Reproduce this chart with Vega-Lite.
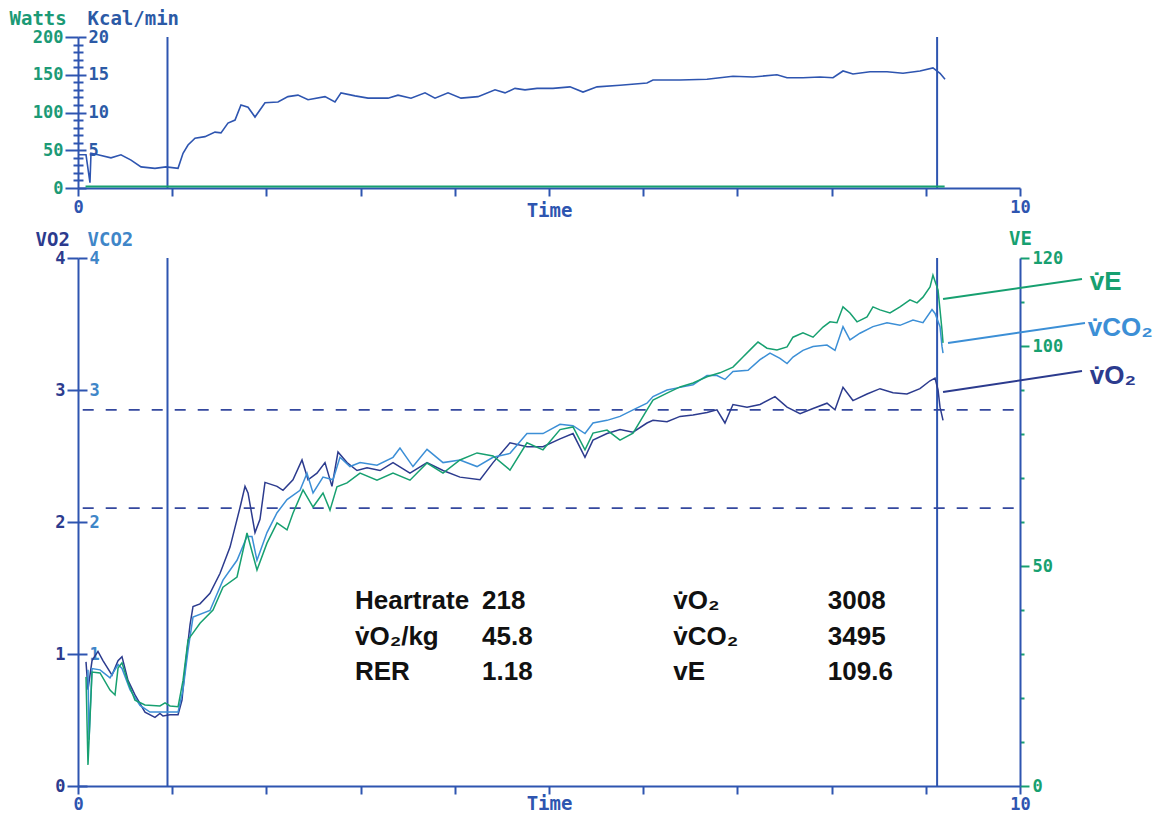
{
  "$schema": "https://vega.github.io/schema/vega-lite/v6.json",
  "background": "white",
  "padding": {"left": 9, "top": 9, "right": 0, "bottom": 0},
  "autosize": {"type": "pad"},
  "bounds": "flush",
  "spacing": 70,
  "config": {
    "view": {"stroke": null},
    "axis": {
      "grid": false,
      "domainColor": "#2e55b0",
      "domainWidth": 2,
      "tickColor": "#2e55b0",
      "tickWidth": 2,
      "labelFont": "DejaVu Sans Mono",
      "labelFontWeight": "bold",
      "labelFontSize": 17,
      "titleFont": "DejaVu Sans Mono",
      "titleFontWeight": "bold",
      "titleFontSize": 19,
      "labelOverlap": false,
      "labelFlush": false
    }
  },
  "datasets": {
    "kcal": [
      {"t": 0.0, "v": 4.4}, {"t": 0.085, "v": 4.4}, {"t": 0.127, "v": 0.7}, {"t": 0.138, "v": 4.6}, {"t": 0.212, "v": 4.4},
      {"t": 0.35, "v": 4.0}, {"t": 0.456, "v": 4.4}, {"t": 0.563, "v": 3.7}, {"t": 0.669, "v": 2.8}, {"t": 0.817, "v": 2.6},
      {"t": 0.934, "v": 2.8}, {"t": 1.062, "v": 2.6}, {"t": 1.115, "v": 4.6}, {"t": 1.168, "v": 5.7}, {"t": 1.242, "v": 6.6},
      {"t": 1.348, "v": 6.8}, {"t": 1.454, "v": 7.4}, {"t": 1.518, "v": 7.3}, {"t": 1.592, "v": 8.6}, {"t": 1.667, "v": 9.0},
      {"t": 1.73, "v": 11.0}, {"t": 1.805, "v": 10.7}, {"t": 1.879, "v": 9.4}, {"t": 1.985, "v": 11.3}, {"t": 2.123, "v": 11.4},
      {"t": 2.229, "v": 12.1}, {"t": 2.335, "v": 12.3}, {"t": 2.442, "v": 11.7}, {"t": 2.622, "v": 12.1}, {"t": 2.728, "v": 11.4},
      {"t": 2.792, "v": 12.6}, {"t": 2.941, "v": 12.2}, {"t": 3.079, "v": 11.9}, {"t": 3.291, "v": 11.9}, {"t": 3.397, "v": 12.3},
      {"t": 3.535, "v": 11.9}, {"t": 3.684, "v": 12.6}, {"t": 3.79, "v": 11.9}, {"t": 3.928, "v": 12.6}, {"t": 4.066, "v": 11.9},
      {"t": 4.246, "v": 12.1}, {"t": 4.427, "v": 13.0}, {"t": 4.533, "v": 12.6}, {"t": 4.639, "v": 13.2}, {"t": 4.745, "v": 13.0},
      {"t": 4.873, "v": 13.2}, {"t": 5.042, "v": 13.2}, {"t": 5.223, "v": 13.4}, {"t": 5.361, "v": 12.7}, {"t": 5.51, "v": 13.4},
      {"t": 5.754, "v": 13.6}, {"t": 6.04, "v": 13.9}, {"t": 6.104, "v": 14.3}, {"t": 6.391, "v": 14.3}, {"t": 6.677, "v": 14.4},
      {"t": 6.815, "v": 14.6}, {"t": 6.953, "v": 14.8}, {"t": 7.166, "v": 14.7}, {"t": 7.42, "v": 15.0}, {"t": 7.527, "v": 14.6},
      {"t": 7.696, "v": 14.6}, {"t": 7.877, "v": 14.7}, {"t": 8.015, "v": 14.6}, {"t": 8.121, "v": 15.5}, {"t": 8.227, "v": 15.1},
      {"t": 8.408, "v": 15.4}, {"t": 8.588, "v": 15.4}, {"t": 8.758, "v": 15.2}, {"t": 8.938, "v": 15.5}, {"t": 9.076, "v": 15.9},
      {"t": 9.151, "v": 15.2}, {"t": 9.204, "v": 14.4}
    ],
    "watts": [{"t": 0.08, "v": 2}, {"t": 4.5, "v": 2}, {"t": 9.2, "v": 2}],
    "vo2": [
      {"t": 0.085, "v": 0.94}, {"t": 0.106, "v": 0.73}, {"t": 0.149, "v": 0.95}, {"t": 0.212, "v": 1.02}, {"t": 0.265, "v": 0.95},
      {"t": 0.361, "v": 0.84}, {"t": 0.425, "v": 0.95}, {"t": 0.467, "v": 0.98}, {"t": 0.531, "v": 0.8}, {"t": 0.605, "v": 0.69},
      {"t": 0.711, "v": 0.56}, {"t": 0.817, "v": 0.52}, {"t": 0.87, "v": 0.55}, {"t": 0.902, "v": 0.53}, {"t": 0.977, "v": 0.54},
      {"t": 1.062, "v": 0.54}, {"t": 1.104, "v": 0.65}, {"t": 1.136, "v": 0.89}, {"t": 1.189, "v": 1.22}, {"t": 1.221, "v": 1.36},
      {"t": 1.295, "v": 1.38}, {"t": 1.401, "v": 1.46}, {"t": 1.507, "v": 1.61}, {"t": 1.614, "v": 1.81}, {"t": 1.72, "v": 2.11},
      {"t": 1.773, "v": 2.27}, {"t": 1.805, "v": 2.22}, {"t": 1.879, "v": 1.92}, {"t": 1.932, "v": 2.02}, {"t": 1.985, "v": 2.3},
      {"t": 2.113, "v": 2.27}, {"t": 2.176, "v": 2.24}, {"t": 2.282, "v": 2.32}, {"t": 2.378, "v": 2.47}, {"t": 2.442, "v": 2.32},
      {"t": 2.537, "v": 2.37}, {"t": 2.622, "v": 2.45}, {"t": 2.696, "v": 2.27}, {"t": 2.76, "v": 2.53}, {"t": 2.856, "v": 2.45},
      {"t": 2.962, "v": 2.39}, {"t": 3.068, "v": 2.41}, {"t": 3.206, "v": 2.39}, {"t": 3.344, "v": 2.45}, {"t": 3.524, "v": 2.37},
      {"t": 3.705, "v": 2.45}, {"t": 3.875, "v": 2.39}, {"t": 4.055, "v": 2.34}, {"t": 4.268, "v": 2.32}, {"t": 4.406, "v": 2.45},
      {"t": 4.586, "v": 2.6}, {"t": 4.766, "v": 2.57}, {"t": 4.936, "v": 2.57}, {"t": 5.117, "v": 2.63}, {"t": 5.255, "v": 2.67},
      {"t": 5.382, "v": 2.49}, {"t": 5.467, "v": 2.62}, {"t": 5.616, "v": 2.67}, {"t": 5.754, "v": 2.7}, {"t": 5.892, "v": 2.68},
      {"t": 6.04, "v": 2.75}, {"t": 6.104, "v": 2.77}, {"t": 6.253, "v": 2.76}, {"t": 6.391, "v": 2.8}, {"t": 6.529, "v": 2.81},
      {"t": 6.677, "v": 2.83}, {"t": 6.783, "v": 2.85}, {"t": 6.868, "v": 2.75}, {"t": 6.953, "v": 2.89}, {"t": 7.102, "v": 2.87},
      {"t": 7.24, "v": 2.89}, {"t": 7.399, "v": 2.95}, {"t": 7.527, "v": 2.87}, {"t": 7.665, "v": 2.82}, {"t": 7.803, "v": 2.86},
      {"t": 7.951, "v": 2.9}, {"t": 8.036, "v": 2.85}, {"t": 8.121, "v": 3.02}, {"t": 8.227, "v": 2.92}, {"t": 8.376, "v": 2.97},
      {"t": 8.514, "v": 3.01}, {"t": 8.652, "v": 2.98}, {"t": 8.8, "v": 2.97}, {"t": 8.938, "v": 3.01}, {"t": 9.045, "v": 3.07},
      {"t": 9.098, "v": 3.09}, {"t": 9.13, "v": 3.0}, {"t": 9.151, "v": 2.87}, {"t": 9.183, "v": 2.77}
    ],
    "vco2": [
      {"t": 0.106, "v": 0.88}, {"t": 0.117, "v": 0.35}, {"t": 0.149, "v": 0.89}, {"t": 0.234, "v": 0.88}, {"t": 0.34, "v": 0.82},
      {"t": 0.425, "v": 0.92}, {"t": 0.467, "v": 0.89}, {"t": 0.552, "v": 0.73}, {"t": 0.658, "v": 0.61}, {"t": 0.764, "v": 0.56},
      {"t": 0.87, "v": 0.56}, {"t": 0.977, "v": 0.56}, {"t": 1.062, "v": 0.56}, {"t": 1.115, "v": 0.73}, {"t": 1.168, "v": 1.03},
      {"t": 1.221, "v": 1.28}, {"t": 1.401, "v": 1.33}, {"t": 1.539, "v": 1.56}, {"t": 1.688, "v": 1.71}, {"t": 1.794, "v": 1.89},
      {"t": 1.847, "v": 1.89}, {"t": 1.9, "v": 1.71}, {"t": 2.006, "v": 1.92}, {"t": 2.113, "v": 2.07}, {"t": 2.219, "v": 2.17},
      {"t": 2.357, "v": 2.24}, {"t": 2.431, "v": 2.37}, {"t": 2.495, "v": 2.22}, {"t": 2.601, "v": 2.34}, {"t": 2.707, "v": 2.32},
      {"t": 2.781, "v": 2.49}, {"t": 2.887, "v": 2.42}, {"t": 2.994, "v": 2.45}, {"t": 3.174, "v": 2.43}, {"t": 3.344, "v": 2.49},
      {"t": 3.418, "v": 2.56}, {"t": 3.556, "v": 2.42}, {"t": 3.705, "v": 2.55}, {"t": 3.875, "v": 2.45}, {"t": 4.055, "v": 2.47},
      {"t": 4.236, "v": 2.42}, {"t": 4.406, "v": 2.49}, {"t": 4.586, "v": 2.52}, {"t": 4.766, "v": 2.67}, {"t": 4.936, "v": 2.67},
      {"t": 5.117, "v": 2.74}, {"t": 5.255, "v": 2.73}, {"t": 5.382, "v": 2.67}, {"t": 5.467, "v": 2.75}, {"t": 5.616, "v": 2.77},
      {"t": 5.754, "v": 2.8}, {"t": 5.892, "v": 2.85}, {"t": 6.04, "v": 2.9}, {"t": 6.104, "v": 2.95}, {"t": 6.253, "v": 3.0},
      {"t": 6.391, "v": 3.02}, {"t": 6.529, "v": 3.04}, {"t": 6.677, "v": 3.11}, {"t": 6.783, "v": 3.11}, {"t": 6.868, "v": 3.08},
      {"t": 6.953, "v": 3.14}, {"t": 7.113, "v": 3.15}, {"t": 7.24, "v": 3.23}, {"t": 7.346, "v": 3.28}, {"t": 7.452, "v": 3.24},
      {"t": 7.527, "v": 3.2}, {"t": 7.59, "v": 3.25}, {"t": 7.696, "v": 3.3}, {"t": 7.803, "v": 3.33}, {"t": 7.951, "v": 3.34},
      {"t": 8.036, "v": 3.3}, {"t": 8.121, "v": 3.48}, {"t": 8.195, "v": 3.38}, {"t": 8.301, "v": 3.43}, {"t": 8.439, "v": 3.48},
      {"t": 8.588, "v": 3.51}, {"t": 8.726, "v": 3.49}, {"t": 8.864, "v": 3.53}, {"t": 8.97, "v": 3.51}, {"t": 9.066, "v": 3.61},
      {"t": 9.098, "v": 3.58}, {"t": 9.151, "v": 3.48}, {"t": 9.172, "v": 3.33}, {"t": 9.183, "v": 3.28}
    ],
    "ve": [
      {"t": 0.085, "v": 24.8}, {"t": 0.106, "v": 4.8}, {"t": 0.149, "v": 25.9}, {"t": 0.234, "v": 25.7}, {"t": 0.34, "v": 21.8},
      {"t": 0.393, "v": 20.7}, {"t": 0.425, "v": 26.8}, {"t": 0.467, "v": 28.0}, {"t": 0.531, "v": 23.6}, {"t": 0.605, "v": 19.5},
      {"t": 0.711, "v": 18.4}, {"t": 0.87, "v": 18.2}, {"t": 0.924, "v": 18.9}, {"t": 0.977, "v": 18.2}, {"t": 1.062, "v": 18.0},
      {"t": 1.115, "v": 24.0}, {"t": 1.168, "v": 33.2}, {"t": 1.295, "v": 37.0}, {"t": 1.433, "v": 40.0}, {"t": 1.539, "v": 45.2},
      {"t": 1.688, "v": 47.5}, {"t": 1.794, "v": 57.5}, {"t": 1.9, "v": 49.1}, {"t": 2.006, "v": 55.2}, {"t": 2.113, "v": 59.8},
      {"t": 2.219, "v": 58.2}, {"t": 2.282, "v": 62.0}, {"t": 2.389, "v": 67.3}, {"t": 2.495, "v": 63.4}, {"t": 2.601, "v": 66.6},
      {"t": 2.675, "v": 62.7}, {"t": 2.749, "v": 68.0}, {"t": 2.856, "v": 68.9}, {"t": 2.994, "v": 71.1}, {"t": 3.174, "v": 69.5},
      {"t": 3.344, "v": 71.1}, {"t": 3.524, "v": 69.5}, {"t": 3.705, "v": 73.4}, {"t": 3.875, "v": 71.1}, {"t": 4.055, "v": 74.1},
      {"t": 4.236, "v": 75.7}, {"t": 4.406, "v": 75.0}, {"t": 4.586, "v": 71.8}, {"t": 4.766, "v": 78.0}, {"t": 4.936, "v": 76.4},
      {"t": 5.117, "v": 81.0}, {"t": 5.255, "v": 81.6}, {"t": 5.382, "v": 76.4}, {"t": 5.467, "v": 80.2}, {"t": 5.616, "v": 80.9},
      {"t": 5.754, "v": 78.6}, {"t": 5.892, "v": 80.2}, {"t": 6.04, "v": 85.5}, {"t": 6.104, "v": 87.7}, {"t": 6.253, "v": 89.3},
      {"t": 6.391, "v": 90.7}, {"t": 6.529, "v": 91.6}, {"t": 6.677, "v": 93.0}, {"t": 6.815, "v": 93.9}, {"t": 6.953, "v": 95.2},
      {"t": 7.059, "v": 97.5}, {"t": 7.166, "v": 99.8}, {"t": 7.219, "v": 100.9}, {"t": 7.314, "v": 99.5}, {"t": 7.42, "v": 99.1},
      {"t": 7.527, "v": 99.8}, {"t": 7.59, "v": 102.0}, {"t": 7.696, "v": 103.0}, {"t": 7.803, "v": 102.0}, {"t": 7.909, "v": 104.3},
      {"t": 7.983, "v": 105.5}, {"t": 8.057, "v": 105.3}, {"t": 8.121, "v": 108.9}, {"t": 8.195, "v": 107.5}, {"t": 8.27, "v": 105.5},
      {"t": 8.376, "v": 106.6}, {"t": 8.439, "v": 108.9}, {"t": 8.514, "v": 108.2}, {"t": 8.62, "v": 107.5}, {"t": 8.726, "v": 108.9},
      {"t": 8.832, "v": 110.5}, {"t": 8.907, "v": 109.8}, {"t": 8.97, "v": 111.1}, {"t": 9.045, "v": 113.4}, {"t": 9.076, "v": 116.1},
      {"t": 9.13, "v": 112.7}, {"t": 9.151, "v": 108.2}, {"t": 9.172, "v": 103.6}, {"t": 9.183, "v": 100.7}
    ],
    "vlines": [{"t": 0.95}, {"t": 9.12}],
    "dashes": [{"t1": 0.05, "t2": 9.95, "v": 2.85}, {"t1": 0.05, "t2": 10.0, "v": 2.105}],
    "stats": [
      {"t": 2.94, "v": 1.40, "label": "Heartrate"}, {"t": 4.29, "v": 1.40, "label": "218"},
      {"t": 6.32, "v": 1.40, "label": "v̇O₂"}, {"t": 7.96, "v": 1.40, "label": "3008"},
      {"t": 2.94, "v": 1.13, "label": "v̇O₂/kg"}, {"t": 4.29, "v": 1.13, "label": "45.8"},
      {"t": 6.32, "v": 1.13, "label": "v̇CO₂"}, {"t": 7.96, "v": 1.13, "label": "3495"},
      {"t": 2.94, "v": 0.86, "label": "RER"}, {"t": 4.29, "v": 0.86, "label": "1.18"},
      {"t": 6.32, "v": 0.86, "label": "vE"}, {"t": 7.96, "v": 0.86, "label": "109.6"}
    ],
    "callouts": [
      {"s": "VE", "t1": 9.183, "v1": 3.689, "t2": 10.658, "v2": 3.841, "tt": 10.74, "vt": 3.818, "label": "v̇E"},
      {"s": "VCO2", "t1": 9.236, "v1": 3.356, "t2": 10.69, "v2": 3.508, "tt": 10.72, "vt": 3.47, "label": "v̇CO₂"},
      {"s": "VO2", "t1": 9.183, "v1": 2.985, "t2": 10.658, "v2": 3.144, "tt": 10.74, "vt": 3.106, "label": "v̇O₂"}
    ]
  },
  "vconcat": [
    {
      "width": 942,
      "height": 151,
      "layer": [
        {
          "data": {"name": "vlines"},
          "mark": {"type": "rule", "color": "#2e55b0", "strokeWidth": 2},
          "encoding": {
            "x": {
              "field": "t", "type": "quantitative",
              "scale": {"domain": [0, 10], "nice": false},
              "axis": {
                "title": "Time",
                "format": "d",
                "values": [0, 0.5, 1, 1.5, 2, 2.5, 3, 3.5, 4, 4.5, 5, 5.5, 6, 6.5, 7, 7.5, 8, 8.5, 9, 9.5, 10],
                "labelExpr": "datum.value == 0 || datum.value == 10 ? datum.label : ''",
                "labelColor": "#2e55b0",
                "titleColor": "#2e55b0",
                "tickSize": {"condition": {"test": "datum.value % 1 === 0", "value": 8}, "value": 5},
                "labelPadding": 3,
                "titleY": 28,
                "titleBaseline": "alphabetic"
              }
            }
          }
        },
        {
          "data": {"name": "watts"},
          "mark": {"type": "line", "color": "#17a070", "strokeWidth": 2},
          "encoding": {
            "x": {"field": "t", "type": "quantitative", "scale": {"domain": [0, 10], "nice": false}},
            "y": {
              "field": "v", "type": "quantitative",
              "scale": {"domain": [0, 200], "nice": false},
              "axis": {
                "orient": "left",
                "title": "Watts",
                "titleColor": "#1c9a76",
                "titleAngle": 0,
                "titleAlign": "left",
                "titleBaseline": "alphabetic",
                "titleX": -69,
                "titleY": -13,
                "values": [0, 10, 20, 30, 40, 50, 60, 70, 80, 90, 100, 110, 120, 130, 140, 150, 160, 170, 180, 190, 200],
                "labelExpr": "datum.value % 50 == 0 ? datum.label : ''",
                "labelColor": "#1c9a76",
                "tickSize": {"condition": {"test": "datum.value % 50 === 0", "value": 13}, "value": 5},
                "labelPadding": 2
              }
            }
          }
        },
        {
          "data": {"name": "kcal"},
          "mark": {"type": "line", "color": "#2e55b0", "strokeWidth": 1.6},
          "encoding": {
            "x": {"field": "t", "type": "quantitative", "scale": {"domain": [0, 10], "nice": false}},
            "y": {
              "field": "v", "type": "quantitative",
              "scale": {"domain": [0, 20], "nice": false},
              "axis": {
                "orient": "right",
                "offset": -942,
                "domain": false,
                "title": "Kcal/min",
                "titleColor": "#2c5aa6",
                "titleAngle": 0,
                "titleAlign": "left",
                "titleBaseline": "alphabetic",
                "titleX": 9,
                "titleY": -13,
                "values": [0, 1, 2, 3, 4, 5, 6, 7, 8, 9, 10, 11, 12, 13, 14, 15, 16, 17, 18, 19, 20],
                "labelExpr": "datum.value % 5 == 0 && datum.value > 0 ? datum.label : ''",
                "labelColor": "#2c5aa6",
                "tickSize": {"condition": {"test": "datum.value % 5 === 0", "value": 8}, "value": 5},
                "labelPadding": 2
              }
            }
          }
        }
      ],
      "resolve": {"scale": {"y": "independent"}}
    },
    {
      "width": 942,
      "height": 528,
      "layer": [
        {
          "data": {"name": "vlines"},
          "mark": {"type": "rule", "color": "#2e55b0", "strokeWidth": 2},
          "encoding": {
            "x": {
              "field": "t", "type": "quantitative",
              "scale": {"domain": [0, 10], "nice": false},
              "axis": {
                "title": "Time",
                "format": "d",
                "values": [0, 0.5, 1, 1.5, 2, 2.5, 3, 3.5, 4, 4.5, 5, 5.5, 6, 6.5, 7, 7.5, 8, 8.5, 9, 9.5, 10],
                "labelExpr": "datum.value == 0 || datum.value == 10 ? datum.label : ''",
                "labelColor": "#2e55b0",
                "titleColor": "#2e55b0",
                "tickSize": {"condition": {"test": "datum.value % 1 === 0", "value": 8}, "value": 5},
                "labelPadding": 2,
                "titleY": 23,
                "titleBaseline": "alphabetic"
              }
            }
          }
        },
        {
          "data": {"name": "dashes"},
          "mark": {"type": "rule", "color": "#34489e", "strokeWidth": 1.8, "strokeDash": [11, 12]},
          "encoding": {
            "x": {"field": "t1", "type": "quantitative", "scale": {"domain": [0, 10], "nice": false}},
            "x2": {"field": "t2"},
            "y": {"field": "v", "type": "quantitative", "scale": {"domain": [0, 4], "nice": false}, "axis": null}
          }
        },
        {
          "data": {"name": "vo2"},
          "mark": {"type": "line", "color": "#2c3b8e", "strokeWidth": 1.5},
          "encoding": {
            "x": {"field": "t", "type": "quantitative", "scale": {"domain": [0, 10], "nice": false}},
            "y": {
              "field": "v", "type": "quantitative",
              "scale": {"domain": [0, 4], "nice": false},
              "axis": {
                "orient": "left",
                "title": "VO2",
                "format": "d",
                "titleColor": "#2c3b8e",
                "titleAngle": 0,
                "titleAlign": "left",
                "titleBaseline": "alphabetic",
                "titleX": -43,
                "titleY": -13,
                "values": [0, 0.25, 0.5, 0.75, 1, 1.25, 1.5, 1.75, 2, 2.25, 2.5, 2.75, 3, 3.25, 3.5, 3.75, 4],
                "labelExpr": "datum.value % 1 == 0 ? datum.label : ''",
                "labelColor": "#2c3b8e",
                "tickSize": {"condition": {"test": "datum.value % 1 === 0", "value": 11}, "value": 5},
                "labelPadding": 2
              }
            }
          }
        },
        {
          "data": {"name": "vco2"},
          "mark": {"type": "line", "color": "#3c8fd6", "strokeWidth": 1.5},
          "encoding": {
            "x": {"field": "t", "type": "quantitative", "scale": {"domain": [0, 10], "nice": false}},
            "y": {
              "field": "v", "type": "quantitative",
              "scale": {"domain": [0, 4], "nice": false},
              "axis": {
                "orient": "right",
                "offset": -942,
                "domain": false,
                "title": "VCO2",
                "format": "d",
                "titleColor": "#3f86c8",
                "titleAngle": 0,
                "titleAlign": "left",
                "titleBaseline": "alphabetic",
                "titleX": 9,
                "titleY": -13,
                "values": [0, 0.25, 0.5, 0.75, 1, 1.25, 1.5, 1.75, 2, 2.25, 2.5, 2.75, 3, 3.25, 3.5, 3.75, 4],
                "labelExpr": "datum.value % 1 == 0 && datum.value > 0 ? datum.label : ''",
                "labelColor": "#3f86c8",
                "tickSize": {"condition": {"test": "datum.value % 1 === 0", "value": 9}, "value": 5},
                "labelPadding": 2
              }
            }
          }
        },
        {
          "data": {"name": "ve"},
          "mark": {"type": "line", "color": "#17a070", "strokeWidth": 1.5},
          "encoding": {
            "x": {"field": "t", "type": "quantitative", "scale": {"domain": [0, 10], "nice": false}},
            "y": {
              "field": "v", "type": "quantitative",
              "scale": {"domain": [0, 120], "nice": false},
              "axis": {
                "orient": "right",
                "title": "VE",
                "titleColor": "#17a070",
                "titleAngle": 0,
                "titleAlign": "center",
                "titleBaseline": "alphabetic",
                "titleX": 0,
                "titleY": -14,
                "values": [0, 10, 20, 30, 40, 50, 60, 70, 80, 90, 100, 110, 120],
                "labelExpr": "datum.value % 50 == 0 || datum.value == 120 ? datum.label : ''",
                "labelColor": "#17a070",
                "tickColor": "#17a070",
                "tickSize": {"condition": {"test": "datum.value % 50 === 0 || datum.value === 120", "value": 9}, "value": 4},
                "labelPadding": 3
              }
            }
          }
        },
        {
          "data": {"name": "stats"},
          "mark": {"type": "text", "align": "left", "baseline": "middle", "font": "Liberation Sans", "fontWeight": "bold", "fontSize": 26, "color": "#111111"},
          "encoding": {
            "x": {"field": "t", "type": "quantitative", "scale": {"domain": [0, 10], "nice": false}},
            "y": {"field": "v", "type": "quantitative", "scale": {"domain": [0, 4], "nice": false}, "axis": null},
            "text": {"field": "label"}
          }
        },
        {
          "data": {"name": "callouts"},
          "mark": {"type": "rule", "strokeWidth": 2, "clip": false},
          "encoding": {
            "x": {"field": "t1", "type": "quantitative", "scale": {"domain": [0, 10], "nice": false}},
            "x2": {"field": "t2"},
            "y": {"field": "v1", "type": "quantitative", "scale": {"domain": [0, 4], "nice": false}, "axis": null},
            "y2": {"field": "v2"},
            "color": {"field": "s", "type": "nominal", "scale": {"domain": ["VE", "VCO2", "VO2"], "range": ["#17a070", "#3c8fd6", "#2c3b8e"]}, "legend": null}
          }
        },
        {
          "data": {"name": "callouts"},
          "mark": {"type": "text", "align": "left", "baseline": "middle", "font": "Liberation Sans", "fontWeight": "bold", "fontSize": 26, "clip": false},
          "encoding": {
            "x": {"field": "tt", "type": "quantitative", "scale": {"domain": [0, 10], "nice": false}},
            "y": {"field": "vt", "type": "quantitative", "scale": {"domain": [0, 4], "nice": false}, "axis": null},
            "text": {"field": "label"},
            "color": {"field": "s", "type": "nominal", "scale": {"domain": ["VE", "VCO2", "VO2"], "range": ["#17a070", "#3c8fd6", "#2c3b8e"]}, "legend": null}
          }
        }
      ],
      "resolve": {"scale": {"y": "independent"}}
    }
  ]
}
